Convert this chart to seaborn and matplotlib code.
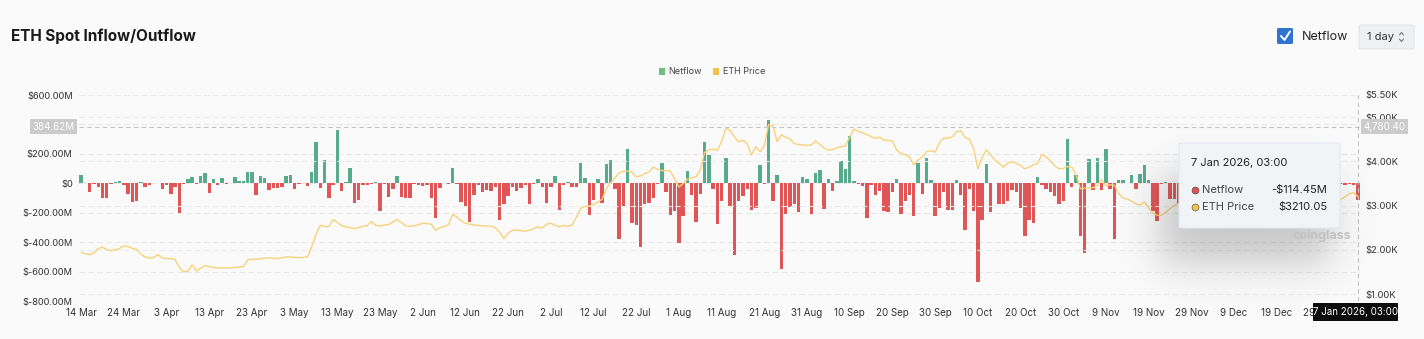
import numpy as np
import pandas as pd
import matplotlib
matplotlib.use("Agg")
import matplotlib.pyplot as plt
import seaborn as sns
from matplotlib.patches import FancyBboxPatch, Patch
from matplotlib.lines import Line2D

# ---------------- data ----------------
dates = pd.date_range("2025-03-14", "2026-01-07", freq="D")

# daily ETH spot netflow, $M
netflow = [
    53, 5, -62, -5, -25, -98, -98, -3, 8, 15,
    -10, -75, -130, -118, 8, -25, -12, 3, 3, -38,
    -15, -75, -25, -205, -2, 30, 40, -2, 52, 70,
    -65, 27, -12, 33, -8, 3, 40, 15, 18, 80,
    75, -82, 48, 33, -45, -33, -30, -27, 48, 55,
    -40, -5, 5, -20, 75, 280, -30, 160, -98, -12,
    362, -50, 8, 103, -133, -111, -10, -12, -8, 6,
    -190, -2, -95, -40, 48, -92, -103, -103, -8, -12,
    -20, -12, -100, -235, -33, 5, -8, 107, -5, -128,
    -162, -262, -78, -10, -60, -45, -52, -25, -250, -140,
    -84, -22, -55, -31, -10, -140, -3, 27, -22, -135,
    -22, 48, -180, -12, 8, -22, -22, 138, 38, -218,
    -111, 31, -135, 133, 155, -40, -380, -162, 231, -273,
    -284, -435, -144, -135, -98, -2, 140, -56, -218, -189,
    -404, -220, 84, -80, -265, -75, 282, 191, -38, -280,
    -118, 175, -155, -484, -122, -89, -38, -182, -169, 124,
    -8, 433, -122, 53, -584, -206, -158, -140, -193, 44,
    29, -209, 73, 91, -175, 27, -51, 13, 153, 100,
    322, 18, -8, -18, -235, -15, -78, -53, -187, -193,
    -62, 31, -211, -122, -82, -220, 140, -75, 173, 20,
    -220, -167, -58, -182, -182, 24, -82, -318, -40, -187,
    -669, -247, 131, -193, 4, -140, -142, -120, -47, -60,
    -169, -360, -249, -271, 44, -10, -38, -62, -84, -138,
    -118, 302, -27, 55, -360, -477, 166, -47, 173, -45,
    235, -36, -380, 22, 22, 5, 58, -36, 60, 122,
    24, -190, -255, -5, 8, -105, -110, -135, -60, -90,
    20, -40, -150, 35, -70, -20, 15, -45, -80, 30,
    -25, -110, -60, 10, -35, -20, 25, -50, -90, -15,
    5, -30, -40, 12, -20, -10, -35, 8, -15, -25,
    -60, 40, -20, -30, -45, -8, -10, -6, -12, -114.45,
]

# daily ETH price, $K
price = [
    1.94, 1.91, 1.89, 1.93, 2.03, 2.06, 2.00, 1.98, 2.00, 2.03,
    2.09, 2.07, 2.03, 2.01, 1.90, 1.84, 1.81, 1.83, 1.89, 1.82,
    1.80, 1.80, 1.78, 1.60, 1.50, 1.52, 1.66, 1.52, 1.58, 1.64,
    1.62, 1.60, 1.59, 1.59, 1.59, 1.59, 1.60, 1.61, 1.62, 1.77,
    1.79, 1.78, 1.80, 1.81, 1.82, 1.81, 1.80, 1.82, 1.84, 1.84,
    1.83, 1.82, 1.83, 1.84, 2.07, 2.35, 2.55, 2.53, 2.52, 2.68,
    2.62, 2.54, 2.52, 2.50, 2.48, 2.50, 2.53, 2.55, 2.64, 2.55,
    2.54, 2.56, 2.57, 2.63, 2.68, 2.62, 2.54, 2.53, 2.54, 2.57,
    2.60, 2.59, 2.58, 2.44, 2.50, 2.53, 2.56, 2.80, 2.74, 2.66,
    2.60, 2.58, 2.56, 2.55, 2.54, 2.54, 2.53, 2.50, 2.40, 2.25,
    2.38, 2.44, 2.45, 2.43, 2.42, 2.44, 2.48, 2.52, 2.49, 2.58,
    2.60, 2.55, 2.52, 2.55, 2.53, 2.56, 2.74, 2.94, 2.98, 2.99,
    3.02, 3.08, 3.14, 3.38, 3.52, 3.62, 3.74, 3.77, 3.78, 3.75,
    3.65, 3.67, 3.72, 3.76, 3.87, 3.82, 3.79, 3.79, 3.78, 3.60,
    3.42, 3.50, 3.60, 3.63, 3.65, 3.80, 4.20, 4.26, 4.27, 4.25,
    4.45, 4.75, 4.70, 4.55, 4.44, 4.48, 4.40, 4.14, 4.33, 4.22,
    4.35, 4.83, 4.81, 4.45, 4.60, 4.54, 4.51, 4.40, 4.38, 4.37,
    4.36, 4.37, 4.46, 4.38, 4.30, 4.25, 4.27, 4.31, 4.33, 4.35,
    4.55, 4.73, 4.68, 4.64, 4.61, 4.56, 4.52, 4.55, 4.48, 4.47,
    4.46, 4.25, 4.18, 4.15, 4.10, 3.92, 4.03, 4.10, 4.22, 4.24,
    4.21, 4.42, 4.52, 4.53, 4.55, 4.67, 4.69, 4.54, 4.50, 4.30,
    3.83, 4.08, 4.26, 4.15, 4.03, 3.95, 3.87, 3.96, 3.99, 3.95,
    3.91, 3.83, 3.87, 3.92, 3.95, 4.16, 4.10, 4.01, 3.90, 3.83,
    3.84, 3.88, 3.87, 3.70, 3.38, 3.39, 3.40, 3.40, 3.46, 3.58,
    3.45, 3.47, 3.46, 3.27, 3.17, 3.15, 3.10, 3.04, 3.01, 3.08,
    2.95, 2.83, 2.78, 2.78, 2.85, 2.93, 3.00, 3.05, 3.02, 3.03,
    2.99, 2.99, 2.80, 2.99, 3.19, 3.13, 3.03, 3.04, 3.06, 3.12,
    3.32, 3.32, 3.24, 3.08, 3.11, 3.08, 2.93, 2.95, 2.83, 2.83,
    2.97, 2.98, 2.98, 3.00, 2.96, 2.95, 2.93, 2.93, 2.95, 2.95,
    2.93, 2.97, 2.97, 3.00, 3.12, 3.14, 3.20, 3.27, 3.29, 3.21,
]

left_ticks = [-800, -600, -400, -200, 0, 200, 400, 600]
left_labels = ["$-800.00M", "$-600.00M", "$-400.00M", "$-200.00M", "$0",
               "$200.00M", "", "$600.00M"]
right_ticks = [1.0, 2.0, 3.0, 4.0, 5.0, 5.5]
right_labels = ["$1.00K", "$2.00K", "$3.00K", "$4.00K", "$5.00K", "$5.50K"]

# ---------------- style ----------------
W, H = 1424, 339
BG = "#fafafa"
GREEN = "#58aa8c"
RED = "#e05555"
YELLOW = "#f8d27a"
TXT = "#333333"

sns.set_theme(style="white")
plt.rcParams["font.family"] = ["Inter", "DejaVu Sans"]

fig = plt.figure(figsize=(W / 100, H / 100), dpi=100, facecolor=BG)


def fx(x):
    return x / W


def fy(y):
    return 1 - y / H


ax = fig.add_axes([fx(79), fy(301), (1360 - 79) / W, (301 - 95) / H])
ax.set_facecolor(BG)

df = pd.DataFrame({"idx": np.arange(len(netflow)), "netflow": netflow,
                   "price": price, "date": dates[:len(netflow)]})
df["sign"] = np.where(df["netflow"] >= 0, "in", "out")

sns.barplot(data=df, x="idx", y="netflow", hue="sign",
            palette={"in": GREEN, "out": RED}, native_scale=True,
            width=0.8, dodge=False, legend=False, errorbar=None,
            saturation=1, linewidth=0, ax=ax, zorder=2)

ax.set_xlim(-0.5, len(netflow) - 0.5)
ax.set_ylim(-800, 600)
ax.set_yticks(left_ticks)
ax.set_yticklabels(left_labels)
xt = list(range(0, len(netflow) - 5, 10))
ax.set_xticks(xt)
ax.set_xticklabels([f"{dates[i].day} {dates[i].strftime('%b')}" for i in xt])
ax.tick_params(axis="both", length=0, labelsize=7, colors=TXT)
ax.tick_params(axis="y", pad=4.5, labelsize=6.7)
ax.tick_params(axis="x", pad=5)
ax.set_xlabel("")
ax.set_ylabel("")
for s in ax.spines.values():
    s.set_visible(False)
for t in left_ticks:
    ax.axhline(t, color="#e8e8e8", lw=0.8, ls=(0, (5, 3)), zorder=0)

ax2 = ax.twinx()
sns.lineplot(x=df["idx"], y=df["price"], ax=ax2, color=YELLOW, lw=1.0, zorder=3)
ax2.set_ylim(0.842, 5.5)
ax2.set_yticks(right_ticks)
ax2.set_yticklabels(right_labels)
ax2.tick_params(axis="y", length=0, labelsize=6.8, colors=TXT, pad=4)
ax2.set_ylabel("")
for s in ax2.spines.values():
    s.set_visible(False)
for t in right_ticks:
    ax2.axhline(t, color="#ececec", lw=0.8, ls=(0, (5, 3)), zorder=0)

# crosshair
ax.axhline(384.62, color="#c4c4c4", lw=0.8, ls=(0, (4, 3)), zorder=4)
ax.axvline(len(netflow) - 1, color="#c4c4c4", lw=0.8, ls=(0, (4, 3)), zorder=4)
ax.set_xlim(-0.5, len(netflow) - 0.5)


def box(x0, y0, x1, y1, fc, ec="none", r=3, z=10, lw=0.8):
    p = FancyBboxPatch((fx(x0), fy(y1)), fx(x1) - fx(x0), fy(y0) - fy(y1),
                       boxstyle=f"round,pad=0,rounding_size={r / W}",
                       transform=fig.transFigure, fc=fc, ec=ec, lw=lw, zorder=z)
    fig.patches.append(p)
    return p


def ftext(x, y, s, z=12, **kw):
    return fig.text(fx(x), fy(y), s, zorder=z, **kw)


box(30, 119, 77, 134, "#cbcbcb", r=2)
ftext(53.5, 126.5, "384.62M", ha="center", va="center", color="white", fontsize=7)
box(1361, 119, 1408, 134, "#cbcbcb", r=2)
ftext(1384.5, 126.5, "4,780.40", ha="center", va="center", color="white", fontsize=7)
box(1313, 303, 1398, 321, "#0d0d0d", r=1)
ftext(1355.5, 312, "7 Jan 2026, 03:00", ha="center", va="center", color="white", fontsize=7)

# tooltip shadow
xs = np.arange(1060, W)
ys = np.arange(110, 336)
s = 24.0
sx = 0.5 * (np.tanh((xs - 1160) / s) - np.tanh((xs - 1330) / s))
sy = 0.5 * (np.tanh((ys - 175) / s) - np.tanh((ys - 262) / s))
alpha = 0.28 * np.outer(sy, sx)
rgba = np.zeros((len(ys), len(xs), 4))
rgba[..., 0:3] = 0.25
rgba[..., 3] = alpha
fig.figimage(rgba, xo=1060, yo=H - 336, origin="upper", zorder=5)

# watermark
ftext(1322, 236, "coinglass", ha="center", va="center", color="#c2c2c2",
      fontsize=9, fontweight="bold", z=6)

# tooltip
box(1179, 143, 1340, 228, "#f1f4f7", ec="#e4e8ee", r=5, z=10)
ftext(1191, 163, "7 Jan 2026, 03:00", ha="left", va="center", color="#222222", fontsize=8)
fig.lines.append(Line2D([fx(1195)], [fy(190)], marker="o", ms=5, mfc="#e0524f",
                        mec="#444444", mew=0.4, transform=fig.transFigure, zorder=12))
fig.lines.append(Line2D([fx(1195)], [fy(207)], marker="o", ms=5, mfc="#f1c24e",
                        mec="#444444", mew=0.4, transform=fig.transFigure, zorder=12))
ftext(1202, 190, "Netflow", ha="left", va="center", color="#444444", fontsize=8)
ftext(1202, 207, "ETH Price", ha="left", va="center", color="#444444", fontsize=8)
ftext(1327, 190, "-$114.45M", ha="right", va="center", color="#222222", fontsize=8)
ftext(1327, 207, "$3210.05", ha="right", va="center", color="#222222", fontsize=8)

# title and controls
ftext(11, 36, "ETH Spot Inflow/Outflow", ha="left", va="center", color="#1a1a1a",
      fontsize=11, fontweight="bold")
box(1277, 28, 1293, 44, "#2f74d0", r=3, z=10)
fig.lines.append(Line2D([fx(1281), fx(1284.5), fx(1290)], [fy(36), fy(40), fy(31.5)],
                        color="white", lw=1.4, transform=fig.transFigure, zorder=12))
ftext(1302, 36.5, "Netflow", ha="left", va="center", color="#222222", fontsize=9)
box(1359, 25, 1414, 49, "#eef0f3", ec="#e2e5e9", r=4, z=10)
ftext(1367, 37, "1 day", ha="left", va="center", color="#333333", fontsize=8)
fig.lines.append(Line2D([fx(1399.5), fx(1401.5), fx(1403.5)], [fy(35), fy(32.5), fy(35)],
                        color="#777777", lw=0.8, transform=fig.transFigure, zorder=12))
fig.lines.append(Line2D([fx(1399.5), fx(1401.5), fx(1403.5)], [fy(39), fy(41.5), fy(39)],
                        color="#777777", lw=0.8, transform=fig.transFigure, zorder=12))

# legend
handles = [Patch(fc="#6cc07f", ec="none", label="Netflow"),
           Patch(fc="#f2c14f", ec="none", label="ETH Price")]
fig.legend(handles=handles, loc="center", bbox_to_anchor=(fx(712), fy(72)), ncol=2,
           frameon=False, fontsize=6.5, handlelength=0.7, handleheight=0.7,
           handletextpad=0.4, columnspacing=1.2, labelcolor="#444444")

fig.savefig("out.png", dpi=100, facecolor=BG)
